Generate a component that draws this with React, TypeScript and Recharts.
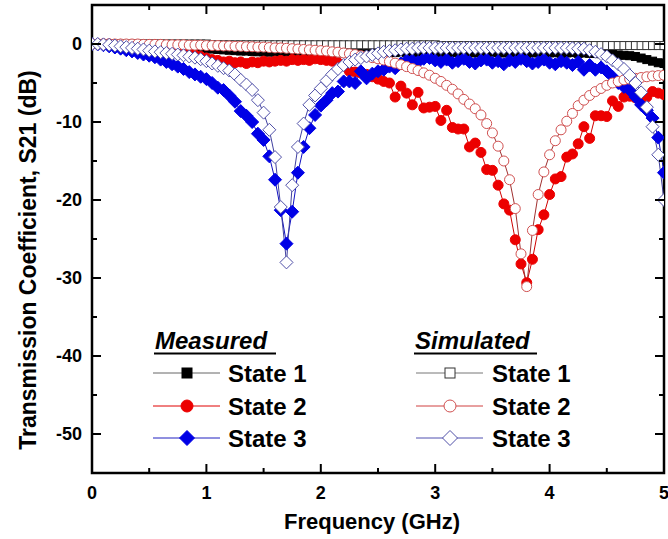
import React from 'react';
import { LineChart, Line, XAxis, YAxis, ReferenceArea, Legend, Label } from 'recharts';

// ---------- data (S21 in dB, sampled every 0.05 GHz from 0 to 5 GHz) ----------
const freq: number[] = Array.from({ length: 101 }, (_, i) => Math.round(i * 5) / 100);

const measuredState1 = [
  0, 0, 0, -0.05, -0.05, -0.1, -0.1, -0.1, -0.15, -0.15,
  -0.2, -0.2, -0.25, -0.3, -0.3, -0.35, -0.4, -0.45, -0.5, -0.55,
  -0.6, -0.65, -0.7, -0.75, -0.8, -0.85, -0.9, -0.9, -0.95, -1.0,
  -1.0, -1.05, -1.0, -1.1, -1.05, -1.1, -1.0, -1.1, -1.15, -1.05,
  -1.1, -1.0, -1.1, -1.15, -1.05, -1.1, -1.0, -1.1, -1.05, -1.1,
  -1.15, -1.1, -1.05, -1.1, -1.0, -1.1, -1.15, -1.05, -1.1, -1.1,
  -1.05, -1.1, -1.15, -1.1, -1.0, -1.1, -1.05, -1.15, -1.1, -1.1,
  -1.05, -1.1, -1.15, -1.1, -1.05, -1.1, -1.2, -1.1, -1.15, -1.1,
  -1.15, -1.1, -1.2, -1.15, -1.1, -1.2, -1.15, -1.2, -1.2, -1.25,
  -1.3, -1.35, -1.4, -1.45, -1.5, -1.6, -1.8, -2.0, -2.2, -2.4,
  -2.5,
];

const measuredState2 = [
  0, 0, 0, 0, -0.05, -0.05, -0.1, -0.1, -0.15, -0.2,
  -0.25, -0.3, -0.4, -0.5, -0.6, -0.8, -1.0, -1.2, -1.4, -1.6,
  -1.8, -2.0, -2.1, -2.3, -2.2, -2.4, -2.3, -2.5, -2.3, -2.4,
  -2.2, -2.3, -2.2, -2.1, -2.2, -2.0, -2.1, -2.0, -2.1, -1.9,
  -2.0, -2.1, -2.2, -2.4, -2.8, -3.5, -3.6, -3.7, -3.9, -4.2,
  -4.5, -4.8, -5.0, -6.8, -5.4, -6.3, -7.8, -6.2, -8.2, -8.1,
  -8.0, -9.8, -8.5, -10.7, -10.9, -10.9, -13.2, -12.7, -13.9, -16.1,
  -16.2, -18.1, -20.5, -21.3, -25.1, -28.2, -30.6, -27.6, -23.8, -21.9,
  -19.3, -17.3, -17.0, -14.5, -14.1, -12.8, -10.6, -12.1, -9.2, -9.2,
  -9.3, -7.3, -8.0, -6.8, -6.7, -6.9, -6.9, -6.8, -6.1, -6.3,
  -6.5,
];

const measuredState3 = [
  0, -0.05, -0.15, -0.3, -0.45, -0.6, -0.8, -0.95, -1.15, -1.35,
  -1.5, -1.7, -2.0, -2.3, -2.6, -2.9, -3.2, -3.6, -3.9, -4.2,
  -4.5, -5.0, -5.6, -5.9, -6.6, -7.4, -8.6, -9.2, -10.0, -11.5,
  -12.3, -14.4, -17.4, -21.3, -25.6, -21.5, -16.5, -13.2, -10.8, -9.1,
  -7.9, -7.2, -6.3, -6.1, -4.8, -4.8, -5.0, -3.5, -4.4, -3.8,
  -3.5, -3.3, -2.9, -3.1, -2.5, -2.1, -2.1, -2.3, -1.9, -1.8,
  -2.1, -2.3, -2.0, -2.4, -2.2, -1.9, -2.3, -2.5, -2.1, -2.0,
  -2.4, -2.2, -2.6, -2.1, -2.3, -1.9, -2.2, -2.5, -2.3, -2.0,
  -2.4, -2.6, -2.2, -2.4, -2.7, -2.3, -3.3, -2.7, -3.3, -3.0,
  -3.5, -4.2, -5.0, -5.5, -5.9, -6.8, -7.8, -8.5, -9.5, -12.0,
  -16.5,
];

const simulatedState1 = [
  0, 0, 0, 0, 0, 0, 0, 0, 0, 0,
  0, 0, 0, 0, 0, 0, 0, 0, 0, 0,
  0, -0.1, -0.1, -0.1, -0.1, -0.1, -0.1, -0.1, -0.1, -0.1,
  -0.1, -0.1, -0.1, -0.1, -0.1, -0.1, -0.1, -0.1, -0.1, -0.1,
  -0.1, -0.1, -0.1, -0.1, -0.1, -0.1, -0.1, -0.1, -0.1, -0.1,
  -0.1, -0.1, -0.1, -0.1, -0.1, -0.1, -0.1, -0.1, -0.1, -0.1,
  -0.1, -0.2, -0.2, -0.2, -0.2, -0.2, -0.2, -0.2, -0.2, -0.2,
  -0.2, -0.2, -0.2, -0.2, -0.2, -0.2, -0.2, -0.2, -0.2, -0.2,
  -0.2, -0.2, -0.2, -0.2, -0.2, -0.2, -0.2, -0.2, -0.2, -0.2,
  -0.2, -0.2, -0.2, -0.2, -0.2, -0.2, -0.2, -0.2, -0.2, -0.2,
  -0.2,
];

const simulatedState2 = [
  0, 0, 0, 0, 0, 0, 0, 0, 0, -0.05,
  -0.05, -0.05, -0.05, -0.1, -0.1, -0.1, -0.1, -0.15, -0.15, -0.15,
  -0.2, -0.2, -0.2, -0.25, -0.25, -0.3, -0.3, -0.35, -0.35, -0.4,
  -0.4, -0.45, -0.5, -0.5, -0.55, -0.6, -0.65, -0.7, -0.75, -0.8,
  -0.85, -0.9, -1.0, -1.05, -1.15, -1.25, -1.35, -1.5, -1.6, -1.75,
  -1.9, -2.05, -2.25, -2.45, -2.65, -2.9, -3.15, -3.4, -3.7, -4.0,
  -4.4, -4.8, -5.3, -5.8, -6.4, -7.1, -7.7, -8.3, -9.1, -10.2,
  -11.4, -13.1, -15.0, -17.4, -21.1, -26.9, -31.1, -23.9, -19.3, -16.4,
  -14.2, -12.4, -11.0, -9.9, -8.9, -7.9, -7.2, -6.6, -6.1, -5.7,
  -5.3, -5.0, -4.8, -4.6, -4.5, -4.4, -4.3, -4.2, -4.1, -4.05,
  -4.0,
];

const simulatedState3 = [
  0, 0, -0.05, -0.1, -0.2, -0.3, -0.4, -0.5, -0.6, -0.7,
  -0.85, -0.95, -1.05, -1.15, -1.25, -1.35, -1.45, -1.6, -1.75, -1.95,
  -2.2, -2.5, -2.8, -3.1, -3.4, -3.9, -4.6, -5.2, -5.9, -7.2,
  -8.8, -11.0, -14.5, -20.9, -28.0, -18.1, -13.2, -10.2, -7.8, -6.6,
  -5.7, -4.7, -3.9, -3.2, -2.7, -2.3, -2.0, -1.8, -1.6, -1.4,
  -1.2, -1.0, -0.9, -0.8, -0.7, -0.6, -0.6, -0.5, -0.5, -0.5,
  -0.5, -0.5, -0.5, -0.5, -0.5, -0.5, -0.5, -0.5, -0.5, -0.5,
  -0.5, -0.5, -0.5, -0.5, -0.5, -0.5, -0.5, -0.5, -0.5, -0.5,
  -0.5, -0.5, -0.5, -0.5, -0.55, -0.6, -0.6, -0.8, -1.0, -1.3,
  -1.6, -2.1, -2.6, -3.2, -4.0, -5.0, -6.2, -8.1, -10.6, -14.2,
  -20.0,
];

const xTicks = [0, 0.5, 1, 1.5, 2, 2.5, 3, 3.5, 4, 4.5, 5];
const xTickLabels = ['0', '1', '2', '3', '4', '5'];
const yTicks = [-55, -50, -45, -40, -35, -30, -25, -20, -15, -10, -5, 0, 5];
const yTickLabels: Record<number, string> = { 0: '0', [-10]: '-10', [-20]: '-20', [-30]: '-30', [-40]: '-40', [-50]: '-50' };
const xTitle = 'Frequency (GHz)';
const yTitle = 'Transmission Coefficient, S21 (dB)';
const groupTitles = ['Measured', 'Simulated'];
const stateNames = ['State 1', 'State 2', 'State 3'];

// ---------- styles ----------
type Shape = 'square' | 'circle' | 'diamond';
interface SeriesStyle {
  shape: Shape; size: number; fill: string; stroke: string; line: string; legendLine: string; sw: number;
}
const measuredStyles: SeriesStyle[] = [
  { shape: 'square', size: 4, fill: '#000', stroke: '#000', line: '#222', legendLine: '#666', sw: 1 },
  { shape: 'circle', size: 5, fill: '#ec0000', stroke: '#ec0000', line: '#d00000', legendLine: '#e00000', sw: 1 },
  { shape: 'diamond', size: 6.5, fill: '#0000e6', stroke: '#0000e6', line: '#1010c0', legendLine: '#2020c0', sw: 1 },
];
const simulatedStyles: SeriesStyle[] = [
  { shape: 'square', size: 4, fill: '#fff', stroke: '#333', line: '#555', legendLine: '#777', sw: 1 },
  { shape: 'circle', size: 5, fill: '#fff', stroke: '#d05050', line: '#a03030', legendLine: '#d04040', sw: 1 },
  { shape: 'diamond', size: 6.5, fill: '#fff', stroke: '#5050a8', line: '#4040a0', legendLine: '#5050b0', sw: 1 },
];

const FONT = '"Liberation Sans", Arial, Helvetica, sans-serif';
const W = 668;
const H = 539;
const MARGIN = { top: 5, right: 4, bottom: 0, left: 0 };
const PLOT_TOP = MARGIN.top;
const PLOT_RIGHT = W - MARGIN.right;

function Marker({ shape, cx, cy, r, fill, stroke, sw }: { shape: Shape; cx: number; cy: number; r: number; fill: string; stroke: string; sw: number }) {
  if (shape === 'square') {
    return <rect x={cx - r} y={cy - r} width={2 * r} height={2 * r} fill={fill} stroke={stroke} strokeWidth={sw} />;
  }
  if (shape === 'circle') {
    return <circle cx={cx} cy={cy} r={r} fill={fill} stroke={stroke} strokeWidth={sw} />;
  }
  return (
    <polygon
      points={`${cx},${cy - r} ${cx + r},${cy} ${cx},${cy + r} ${cx - r},${cy}`}
      fill={fill}
      stroke={stroke}
      strokeWidth={sw}
    />
  );
}

const makeDot = (s: SeriesStyle) => (props: any) => {
  const { cx, cy, index } = props;
  if (cx == null || cy == null || isNaN(cx) || isNaN(cy)) return <g key={`e-${index}`} />;
  return (
    <g key={`d-${index}`}>
      <Marker shape={s.shape} cx={cx} cy={cy} r={s.size} fill={s.fill} stroke={s.stroke} sw={s.sw} />
    </g>
  );
};

const toPoints = (vals: number[]) => freq.map((f, i) => ({ f, v: vals[i] }));

const XTick = (props: any) => {
  const { x, y, payload } = props;
  const v = payload.value as number;
  const major = Math.abs(v - Math.round(v)) < 1e-6;
  const len = major ? 9 : 5;
  return (
    <g>
      <line x1={x} x2={x} y1={y} y2={y - len} stroke="#000" strokeWidth={2} />
      <line x1={x} x2={x} y1={PLOT_TOP} y2={PLOT_TOP + len} stroke="#000" strokeWidth={2} />
      {major && (
        <text x={x} y={y + 26} textAnchor="middle" fontFamily={FONT} fontWeight="bold" fontSize={18} fill="#000">
          {xTickLabels[Math.round(v)]}
        </text>
      )}
    </g>
  );
};

const YTick = (props: any) => {
  const { x, y, payload } = props;
  const v = payload.value as number;
  const major = v % 10 === 0;
  const len = major ? 9 : 5;
  const label = yTickLabels[v];
  return (
    <g>
      <line x1={x} x2={x + len} y1={y} y2={y} stroke="#000" strokeWidth={2} />
      <line x1={PLOT_RIGHT} x2={PLOT_RIGHT - len} y1={y} y2={y} stroke="#000" strokeWidth={2} />
      {label !== undefined && (
        <text x={x - 10} y={y + 6} textAnchor="end" fontFamily={FONT} fontWeight="bold" fontSize={18} fill="#000">
          {label}
        </text>
      )}
    </g>
  );
};

const XTitle = (props: any) => {
  const vb = props.viewBox || {};
  return (
    <text x={vb.x + vb.width / 2 - 6} y={vb.y + 56} textAnchor="middle" fontFamily={FONT} fontWeight="bold" fontSize={22} fill="#000">
      {xTitle}
    </text>
  );
};

const YTitle = (props: any) => {
  const vb = props.viewBox || {};
  const cx = vb.x + 28;
  const cy = vb.y + 255;
  return (
    <text
      transform={`translate(${cx},${cy}) rotate(-90)`}
      textAnchor="middle"
      dominantBaseline="central"
      fontFamily={FONT}
      fontWeight="bold"
      fontSize={23}
      fill="#000"
    >
      {yTitle}
    </text>
  );
};

const LegendBox = () => {
  const cols = [
    { styles: measuredStyles, lineX1: 13, lineX2: 80, markX: 47, textX: 88, titleX: 15 },
    { styles: simulatedStyles, lineX1: 276, lineX2: 343, markX: 310, textX: 352, titleX: 275 },
  ];
  const rowsY = [53, 86, 118];
  return (
    <svg width={480} height={140} style={{ display: 'block' }}>
      {cols.map((c, ci) => (
        <g key={ci}>
          <text x={c.titleX} y={29} fontFamily={FONT} fontWeight="bold" fontStyle="italic" fontSize={24} fill="#000">
            {groupTitles[ci]}
          </text>
          <line x1={c.titleX - 1} x2={c.titleX + (ci === 0 ? 121 : 122)} y1={33.5} y2={33.5} stroke="#000" strokeWidth={2} />
          {c.styles.map((s, ri) => (
            <g key={ri}>
              <line x1={c.lineX1} x2={c.lineX2} y1={rowsY[ri]} y2={rowsY[ri]} stroke={s.legendLine} strokeWidth={1} />
              <Marker shape={s.shape} cx={c.markX} cy={rowsY[ri]} r={s.shape === 'diamond' ? 7.5 : s.shape === 'circle' ? 6 : 5} fill={s.fill} stroke={s.stroke} sw={1} />
              <text x={c.textX} y={rowsY[ri] + 9} fontFamily={FONT} fontWeight="bold" fontSize={24} fill="#000">
                {stateNames[ri]}
              </text>
            </g>
          ))}
        </g>
      ))}
    </svg>
  );
};

const seriesData = [
  { key: 'm1', vals: measuredState1, style: measuredStyles[0], name: 'Measured State 1' },
  { key: 'm2', vals: measuredState2, style: measuredStyles[1], name: 'Measured State 2' },
  { key: 'm3', vals: measuredState3, style: measuredStyles[2], name: 'Measured State 3' },
  { key: 's1', vals: simulatedState1, style: simulatedStyles[0], name: 'Simulated State 1' },
  { key: 's2', vals: simulatedState2, style: simulatedStyles[1], name: 'Simulated State 2' },
  { key: 's3', vals: simulatedState3, style: simulatedStyles[2], name: 'Simulated State 3' },
];

export default function App() {
  return (
    <div style={{ position: 'absolute', left: 0, top: 0, width: W, height: H, background: '#fff' }}>
      <LineChart width={W} height={H} margin={MARGIN}>
        <XAxis
          dataKey="f"
          type="number"
          domain={[0, 5]}
          ticks={xTicks}
          interval={0}
          allowDataOverflow
          axisLine={false}
          tickLine={false}
          tickSize={0}
          tickMargin={0}
          tick={<XTick />}
          height={66}
          label={<Label content={<XTitle />} />}
        />
        <YAxis
          type="number"
          domain={[-55, 5]}
          ticks={yTicks}
          interval={0}
          allowDataOverflow
          axisLine={false}
          tickLine={false}
          tickSize={0}
          tickMargin={0}
          tick={<YTick />}
          width={92}
          label={<Label content={<YTitle />} />}
        />
        <ReferenceArea x1={0} x2={5} y1={-55} y2={5} fill="none" stroke="#000" strokeWidth={2.5} ifOverflow="visible" />
        {seriesData.map((s) => (
          <Line
            key={s.key}
            data={toPoints(s.vals)}
            dataKey="v"
            name={s.name}
            type="linear"
            stroke={s.style.line}
            strokeWidth={1}
            dot={makeDot(s.style)}
            activeDot={false}
            isAnimationActive={false}
          />
        ))}
        <Legend
          verticalAlign="middle"
          layout="horizontal"
          content={<LegendBox />}
          wrapperStyle={{ left: 140, top: 320, width: 480, height: 140 }}
        />
      </LineChart>
    </div>
  );
}
